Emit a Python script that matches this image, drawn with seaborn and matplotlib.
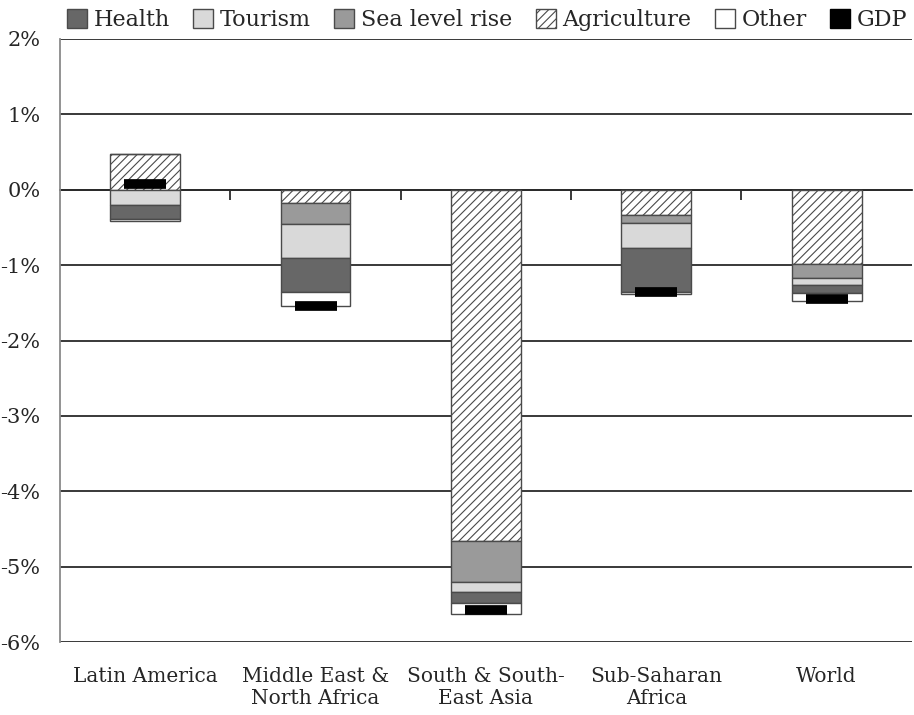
import numpy as np
import pandas as pd
import matplotlib
matplotlib.use("Agg")
import matplotlib.pyplot as plt
from matplotlib.patches import Patch
from matplotlib.ticker import FuncFormatter
import seaborn as sns

# data (% change)
regions = ["Latin America", "Middle East &\nNorth Africa", "South & South-\nEast Asia",
           "Sub-Saharan\nAfrica", "World"]
agriculture = [0.48, -0.18, -4.66, -0.33, -0.99]
sea_level = [0.0, -0.27, -0.54, -0.11, -0.18]
tourism = [-0.20, -0.46, -0.13, -0.33, -0.10]
health = [-0.19, -0.44, -0.155, -0.59, -0.10]
other = [-0.03, -0.19, -0.14, -0.02, -0.10]
gdp = [0.07, -1.54, -5.58, -1.35, -1.45]

# stacking order (top to bottom) and styles
series = [("Agriculture", agriculture, "white", "////"),
          ("Sea level rise", sea_level, "#9a9a9a", None),
          ("Tourism", tourism, "#d9d9d9", None),
          ("Health", health, "#676767", None),
          ("Other", other, "white", None)]

sns.set_theme(style="white")
plt.rcParams['font.family'] = ['DejaVu Serif']
plt.rcParams['hatch.linewidth'] = 0.8

fig = plt.figure(figsize=(9.14, 7.15), dpi=100)
ax = fig.add_axes([0.0656, 0.102, 0.932, 0.8435])

pos_base = np.zeros(len(regions))
neg_base = np.zeros(len(regions))
for name, vals, col, hatch in series:
    vals = np.array(vals, dtype=float)
    bottom = np.where(vals >= 0, pos_base, neg_base)
    df = pd.DataFrame({"region": regions, "value": vals})
    sns.barplot(data=df, x="region", y="value", bottom=bottom, color=col,
                saturation=1, width=0.41, edgecolor="#4a4a4a", linewidth=1.0,
                hatch=hatch, errorbar=None, ax=ax, zorder=3)
    pos_base = pos_base + np.where(vals >= 0, vals, 0)
    neg_base = neg_base + np.where(vals < 0, vals, 0)

# GDP marker
ax.plot(np.arange(len(regions)), gdp, linestyle="none", marker="_",
        markersize=30, markeredgewidth=7, color="black", zorder=5)

ax.set_ylim(-6, 2)
ax.set_xlim(-0.5, len(regions) - 0.5)
ax.set_yticks(np.arange(-6, 3, 1))
ax.yaxis.set_major_formatter(FuncFormatter(lambda v, p: f"{v:.0f}%"))
ax.yaxis.grid(True, color="#2a2a2a", linewidth=1.3, zorder=0)
ax.set_axisbelow(True)
ax.set_xlabel("")
ax.set_ylabel("")
ax.tick_params(axis="y", length=0, pad=14, labelsize=15)
ax.tick_params(axis="x", length=0, pad=18, labelsize=14.5)
for lab in ax.get_xticklabels():
    lab.set_linespacing(1.2)

for s in ["top", "right", "bottom"]:
    ax.spines[s].set_visible(False)
ax.spines["left"].set_color("#8a8a8a")
ax.spines["left"].set_linewidth(1.3)

# zero axis with ticks between categories
sec = ax.secondary_xaxis(0.75)
sec.set_xticks(np.arange(1, len(regions)) - 0.5)
sec.tick_params(axis="x", direction="in", length=7, width=1.3, color="#2a2a2a")
sec.set_xticklabels([])
for s in ["top", "bottom"]:
    sec.spines[s].set_color("#2a2a2a")
    sec.spines[s].set_linewidth(1.3)

handles = [Patch(facecolor="#676767", edgecolor="#4a4a4a"),
           Patch(facecolor="#d9d9d9", edgecolor="#4a4a4a"),
           Patch(facecolor="#9a9a9a", edgecolor="#4a4a4a"),
           Patch(facecolor="white", edgecolor="#4a4a4a", hatch="////"),
           Patch(facecolor="white", edgecolor="#4a4a4a"),
           Patch(facecolor="black", edgecolor="black")]
labels = ["Health", "Tourism", "Sea level rise", "Agriculture", "Other", "GDP"]
fig.legend(handles, labels, loc="center", bbox_to_anchor=(0.533, 0.972), ncol=6,
           frameon=False, fontsize=16, handlelength=0.9, handleheight=0.9,
           handletextpad=0.3, columnspacing=1.05, borderaxespad=0, borderpad=0)

fig.savefig("out.png", dpi=100)
